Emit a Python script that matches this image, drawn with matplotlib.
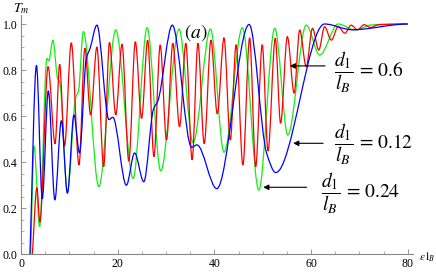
import numpy as np
import matplotlib
matplotlib.use('Agg')
import matplotlib.pyplot as plt
from matplotlib.path import Path
from matplotlib.patches import PathPatch
from matplotlib.ticker import MultipleLocator

plt.rcParams['font.family'] = ['Liberation Serif', 'DejaVu Serif']
plt.rcParams['mathtext.fontset'] = 'stix'

# values (peaks, troughs, shoulders)
red_x = [2.35, 3.3, 3.9, 5.6, 7.05, 8.0, 9.0, 10.4, 12.0, 13.2, 14.4, 15.7, 17.1, 18.3,
         19.6, 20.9, 22.3, 23.65, 24.95, 26.2, 27.5, 28.8, 30.1, 31.4, 32.8, 34.1, 35.4,
         36.6, 37.9, 39.3, 40.6, 42.0, 43.3, 44.5, 45.9, 47.3, 48.55, 49.9, 51.1, 52.6,
         53.7, 55.1, 56.5, 57.65, 59.0, 60.3, 61.6, 62.8, 64.2, 65.6, 67.0, 68.3, 69.6,
         71.0, 72.3, 74.0, 80.0]
red_y = [0.0, 0.29, 0.14, 0.815, 0.48, 0.825, 0.47, 0.918, 0.388, 0.895, 0.605, 0.90, 0.38,
         0.92, 0.605, 0.912, 0.405, 0.923, 0.59, 0.93, 0.424, 0.909, 0.496, 0.916, 0.554,
         0.916, 0.41, 0.916, 0.48, 0.93, 0.61, 0.94, 0.496, 0.91, 0.388, 0.94, 0.38, 0.91,
         0.449, 0.938, 0.569, 0.945, 0.70, 0.974, 0.815, 0.981, 0.887, 0.988, 0.93, 0.988,
         0.96, 0.995, 0.975, 0.997, 0.985, 0.997, 1.0]

green_x = [2.0, 2.7, 3.85, 5.35, 5.75, 6.6, 7.6, 8.0, 9.6, 11.3, 11.9, 12.9, 16.1, 19.6,
           23.2, 26.1, 28.9, 32.7, 35.6, 39.2, 42.0, 45.8, 49.2, 52.5, 55.2, 59.0, 61.8,
           65.6, 69.1, 72.5, 80.0]
green_y = [0.0, 0.47, 0.12, 0.85, 0.84, 0.93, 0.76, 0.75, 0.27, 0.68, 0.71, 0.967, 0.294,
           0.974, 0.33, 0.984, 0.362, 0.978, 0.485, 0.978, 0.443, 0.984, 0.279, 0.981,
           0.518, 0.995, 0.865, 1.0, 0.974, 0.996, 1.0]

blue_x = [1.85, 3.2, 4.4, 5.65, 7.0, 8.35, 9.6, 10.96, 12.1, 13.5, 14.3, 15.7, 18.2, 19.0,
          21.8, 23.5, 25.4, 27.4, 28.3, 31.3, 35.3, 36.4, 40.5, 47.2, 50.8, 52.7, 62.8,
          68.5, 80.0]
blue_y = [0.0, 0.82, 0.24, 0.71, 0.236, 0.58, 0.265, 0.605, 0.44, 0.85, 0.895, 0.995,
          0.585, 0.595, 0.30, 0.44, 0.315, 0.63, 0.665, 0.995, 0.465, 0.475, 0.285, 0.998,
          0.44, 0.355, 1.0, 0.975, 1.0]

xticks = [0, 20, 40, 60, 80]
yticks = [0.0, 0.2, 0.4, 0.6, 0.8, 1.0]


def smooth_path(xs, ys):
    # monotone cubic (pchip-like) drawn as bezier segments through the read points
    x = np.asarray(xs, float)
    y = np.asarray(ys, float)
    h = np.diff(x)
    d = np.diff(y) / h
    m = np.zeros_like(x)
    for i in range(1, len(x) - 1):
        if d[i - 1] * d[i] > 0:
            w1 = 2 * h[i] + h[i - 1]
            w2 = h[i] + 2 * h[i - 1]
            m[i] = (w1 + w2) / (w1 / d[i - 1] + w2 / d[i])
    m[0] = d[0]
    verts = [(x[0], y[0])]
    codes = [Path.MOVETO]
    for i in range(len(h)):
        verts += [(x[i] + h[i] / 3, y[i] + m[i] * h[i] / 3),
                  (x[i + 1] - h[i] / 3, y[i + 1] - m[i + 1] * h[i] / 3),
                  (x[i + 1], y[i + 1])]
        codes += [Path.CURVE4] * 3
    return Path(verts, codes)


fig = plt.figure(figsize=(4.36, 2.73), dpi=100)
ax = fig.add_axes([21 / 436, 18.7 / 273, 81 * 4.834 / 436, 1.04 * 230.3 / 273])
ax.set_xlim(0, 81)
ax.set_ylim(0, 1.04)

for xs, ys, c in [(green_x, green_y, '#11ee11'), (red_x, red_y, '#ff0000'),
                  (blue_x, blue_y, '#0000ff')]:
    ax.add_patch(PathPatch(smooth_path(xs, ys), facecolor='none', edgecolor=c, lw=0.9))

# axes in Mathematica style
for s in ['top', 'right']:
    ax.spines[s].set_visible(False)
for s in ['left', 'bottom']:
    ax.spines[s].set_color('#888888')
    ax.spines[s].set_linewidth(0.8)
ax.set_xticks(xticks)
ax.set_yticks(yticks)
ax.set_yticklabels(['%.1f' % v for v in yticks])
ax.xaxis.set_minor_locator(MultipleLocator(5))
ax.yaxis.set_minor_locator(MultipleLocator(0.05))
ax.tick_params(which='major', direction='in', color='#888888', length=3.6, width=0.6,
               labelsize=8.5, pad=2.5)
ax.tick_params(which='minor', direction='in', color='#888888', length=2.0, width=0.5)

fig.text(13 / 436, 1 - 9 / 273, r'$T_m$', fontsize=10, ha='left', va='center')
fig.text(419 / 436, 1 - 257 / 273, r'$\epsilon\,\mathrm{l}_B$', fontsize=8, ha='left', va='center')
ax.text(36.2, 0.965, r'$(a)$', fontsize=14, ha='center', va='center')

arrow = dict(arrowstyle='-|>', color='black', lw=0.8, mutation_scale=8, shrinkA=0, shrinkB=0)
ax.annotate('', xy=(55.6, 0.818), xytext=(62.9, 0.818), arrowprops=arrow)
ax.annotate('', xy=(56.3, 0.482), xytext=(62.5, 0.482), arrowprops=arrow)
ax.annotate('', xy=(50.1, 0.291), xytext=(59.1, 0.291), arrowprops=arrow)

ax.text(64.8, 0.79, r'$\dfrac{d_1}{l_B}\,=\,0.6$', fontsize=14, ha='left', va='center')
ax.text(64.8, 0.477, r'$\dfrac{d_1}{l_B}\,=\,0.12$', fontsize=14, ha='left', va='center')
ax.text(62.1, 0.265, r'$\dfrac{d_1}{l_B}\,=\,0.24$', fontsize=14, ha='left', va='center')

fig.savefig('out.png', dpi=100)
